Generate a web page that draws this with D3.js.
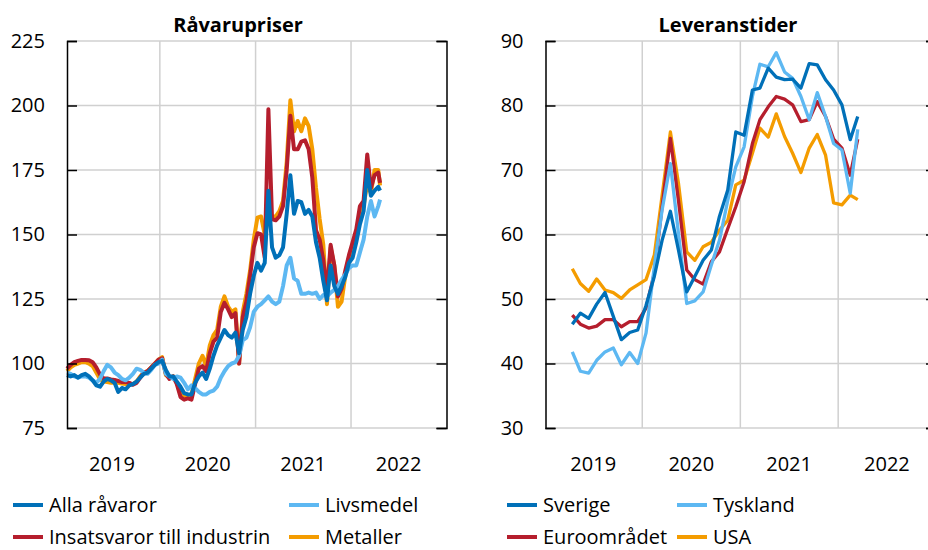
<!DOCTYPE html>
<html>
<head>
<meta charset="utf-8">
<script src="https://cdnjs.cloudflare.com/ajax/libs/d3/7.8.5/d3.min.js"></script>
<style>
  body { margin: 0; background: #fff; }
  svg { display: block; font-family: "Open Sans", Lato, sans-serif; }
  .title { font-size: 20px; font-weight: bold; text-anchor: middle; }
  .axis text { font-size: 20px; fill: #000; }
  .axis path, .axis line { stroke: #000; stroke-width: 1.5px; }
  .grid { stroke: #d0d0d0; stroke-width: 1.5px; }
  .year { font-size: 20px; text-anchor: middle; }
  .legend text { font-size: 20px; }
</style>
</head>
<body>
<div id="chart"></div>
<script>
// commodity prices, every second week
var priceDates = [
  "2019-01-11","2019-01-25","2019-02-08","2019-02-22","2019-03-08","2019-03-22","2019-04-05","2019-04-19",
  "2019-05-03","2019-05-17","2019-05-31","2019-06-14","2019-06-28","2019-07-12","2019-07-26","2019-08-09",
  "2019-08-23","2019-09-06","2019-09-20","2019-10-04","2019-10-18","2019-11-01","2019-11-15","2019-11-29",
  "2019-12-13","2019-12-27","2020-01-10","2020-01-24","2020-02-07","2020-02-21","2020-03-06","2020-03-20",
  "2020-04-03","2020-04-17","2020-05-01","2020-05-15","2020-05-29","2020-06-12","2020-06-26","2020-07-10",
  "2020-07-24","2020-08-07","2020-08-21","2020-09-04","2020-09-18","2020-10-02","2020-10-16","2020-10-30",
  "2020-11-13","2020-11-27","2020-12-11","2020-12-25","2021-01-08","2021-01-22","2021-02-05","2021-02-19",
  "2021-03-05","2021-03-19","2021-04-02","2021-04-16","2021-04-30","2021-05-14","2021-05-28","2021-06-11",
  "2021-06-25","2021-07-09","2021-07-23","2021-08-06","2021-08-20","2021-09-03","2021-09-17","2021-10-01",
  "2021-10-15","2021-10-29","2021-11-12","2021-11-26","2021-12-10","2021-12-24","2022-01-07","2022-01-21",
  "2022-02-04","2022-02-18","2022-03-04","2022-03-18","2022-04-01","2022-04-15","2022-04-22"
];
var allaRavaror = [
  95.5, 95, 95.5, 94.5, 95.5, 96, 95, 93.5, 91.5, 91,
  93, 94, 93.5, 92.5, 89, 90.5, 90, 91.5, 92, 93,
  94.5, 96, 96.5, 98, 99.5, 100.5, 101, 97.5, 95, 95,
  93, 91, 88.5, 88, 88, 92.5, 95, 96.5, 94, 98,
  103, 107, 110, 113, 111, 110, 112, 104, 113, 118,
  127, 134, 139, 136, 139, 167, 145, 141, 142, 145,
  158, 173, 158, 163, 162.5, 158, 159.5, 157, 147, 141,
  132, 124.5, 138, 130, 127, 130, 133.5, 139, 141, 147,
  154, 159, 175, 165, 167, 168.5, 167
];
var livsmedel = [
  96.5, 96, 95, 94.5, 95, 95, 94.5, 93.5, 92.5, 94,
  97, 99.5, 98.5, 96.5, 95.5, 94, 93.5, 94.5, 96, 98,
  97.5, 96.5, 96, 97.5, 99.5, 100, 101.5, 96, 95, 94,
  95, 94.5, 92.5, 90, 91.5, 90.5, 89, 88, 88, 89,
  89.5, 91, 94.5, 97, 99, 100, 100.5, 103, 109, 110,
  114, 120, 122, 123, 124.5, 126, 124, 123, 124, 130,
  138, 141, 133, 132, 127, 127, 127.5, 127, 127.5, 125,
  126.5, 126, 127.5, 128.5, 130, 132.5, 134.5, 137, 138, 138,
  143, 148, 157, 163, 157, 161, 163.5
];
var insatsvaror = [
  98, 99.5, 100.5, 101, 101.4, 101.4, 101.3, 100.5, 98.5, 95.8,
  94.2, 94.2, 93.8, 93.6, 93.2, 92.8, 92.8, 92.5, 91.8, 92.5,
  94.5, 96.5, 97, 98.5, 100, 101.5, 102, 96, 94, 95,
  92, 87, 86, 86.5, 86, 92, 98, 99, 97, 104,
  108.5, 110, 120, 123.5, 121, 118, 119.5, 100, 118, 124,
  134, 145, 150.5, 150, 141, 198.5, 156, 155.5, 157, 161,
  175, 196, 183, 183, 186, 186.5, 183, 172, 151.7, 148,
  140, 128, 146, 138, 126, 129, 136, 142, 147, 152,
  161, 163, 181, 168, 173, 174, 170
];
var metaller = [
  97, 98.5, 99.5, 100, 100.5, 100.5, 100, 99, 96.5, 94,
  93, 92.8, 92.5, 92.5, 92.5, 92.2, 92, 92, 92, 93,
  95, 96.5, 97, 98.5, 100, 101.5, 102.5, 95.5, 94.5, 95,
  92.5, 88, 87, 87.5, 88, 94, 100, 103, 99, 107,
  111, 113, 122, 126, 122, 120, 121, 100, 120, 127,
  136, 148, 156.5, 157, 150, 156, 157, 157, 159, 163,
  178, 202, 190, 194, 190, 195, 192, 183, 168, 156,
  146, 123, 145, 138, 122, 124, 134, 141, 146, 150,
  158, 161, 170, 166, 175, 175, 169
];

// delivery times, monthly
var leadDates = [
  "2019-04-15","2019-05-15","2019-06-15","2019-07-15","2019-08-15","2019-09-15","2019-10-15","2019-11-15","2019-12-15",
  "2020-01-15","2020-02-15","2020-03-15","2020-04-15","2020-05-15","2020-06-15","2020-07-15","2020-08-15","2020-09-15",
  "2020-10-15","2020-11-15","2020-12-15","2021-01-15","2021-02-15","2021-03-15","2021-04-15","2021-05-15","2021-06-15",
  "2021-07-15","2021-08-15","2021-09-15","2021-10-15","2021-11-15","2021-12-15","2022-01-15","2022-02-15","2022-03-15"
];
var sverige = [46.1, 47.8, 47.0, 49.2, 51.0, 47.3, 43.7, 44.8, 45.2, 49.0, 53.5, 59.1, 63.6, 57.6, 51.1, 53.5, 56.0, 57.6,
  62.8, 66.9, 75.9, 75.4, 82.4, 82.7, 85.8, 84.4, 84.0, 84.1, 82.7, 86.5, 86.3, 84.0, 82.4, 80.1, 74.7, 78.3];
var tyskland = [41.8, 38.8, 38.5, 40.5, 41.8, 42.4, 39.8, 41.7, 40.0, 44.7, 55.0, 63.8, 71.0, 60.2, 49.3, 49.7, 51.1, 55.3,
  59.1, 65.3, 70.5, 73.6, 81.4, 86.4, 86.0, 88.2, 85.2, 84.2, 81.4, 77.8, 82.0, 78.3, 74.1, 73.1, 66.4, 76.3];
var euroomradet = [47.5, 46.1, 45.5, 45.8, 46.8, 46.8, 45.7, 46.5, 46.5, 48.6, 54.0, 64.3, 74.9, 65.3, 54.5, 53.0, 52.3, 55.8,
  57.3, 60.9, 64.3, 68.2, 74.1, 77.8, 79.8, 81.4, 81.0, 80.1, 77.5, 77.8, 80.6, 78.3, 74.8, 73.4, 69.2, 74.8];
var usa = [54.7, 52.4, 51.2, 53.1, 51.4, 51.0, 50.1, 51.4, 52.2, 53.0, 56.8, 66.0, 75.9, 68.0, 57.3, 56.0, 58.1, 58.8,
  60.7, 62.2, 67.7, 68.4, 72.6, 76.5, 75.1, 78.7, 75.2, 72.6, 69.6, 73.4, 75.5, 72.3, 64.9, 64.6, 66.1, 65.4];

var priceTicks = [75, 100, 125, 150, 175, 200, 225];
var leadTicks = [30, 40, 50, 60, 70, 80, 90];
var years = [2019, 2020, 2021, 2022];

var colors = {darkblue: "#0070b8", lightblue: "#5db8f2", red: "#b51e2d", orange: "#f49c00"};
var parseDate = d3.timeParse("%Y-%m-%d");

var svg = d3.select("#chart").append("svg")
    .attr("width", 928)
    .attr("height", 550);

function toPoints(dates, values) {
  return dates.map(function(d, i) { return {date: parseDate(d), value: values[i]}; });
}

function drawPanel(p) {
  var x = d3.scaleTime().domain(p.xDomain).range([p.left, p.right]);
  var y = d3.scaleLinear().domain(d3.extent(p.ticks)).range([p.bottom, p.top]);
  var g = svg.append("g");

  // horizontal grid
  g.selectAll(".hgrid")
      .data(p.ticks)
    .enter().append("line")
      .attr("class", "grid")
      .attr("x1", p.left).attr("x2", p.right)
      .attr("y1", function(d) { return y(d); })
      .attr("y2", function(d) { return y(d); });

  // vertical grid at the start of each year
  g.selectAll(".vgrid")
      .data(years.slice(1))
    .enter().append("line")
      .attr("class", "grid")
      .attr("x1", function(d) { return x(new Date(d, 0, 1)); })
      .attr("x2", function(d) { return x(new Date(d, 0, 1)); })
      .attr("y1", p.top).attr("y2", p.bottom);

  // the lines, last legend entry drawn first so the first one ends on top
  var line = d3.line()
      .x(function(d) { return x(d.date); })
      .y(function(d) { return y(d.value); });

  p.series.slice().reverse().forEach(function(s) {
    g.append("path")
        .datum(toPoints(p.dates, s.values))
        .style("fill", "none")
        .style("stroke", s.color)
        .style("stroke-width", p.lineWidth + "px")
        .style("stroke-linejoin", "round")
        .attr("d", line);
  });

  // left and right axes, ticks pointing inwards
  g.append("g")
      .attr("class", "axis")
      .attr("transform", "translate(" + p.left + ",0)")
      .call(d3.axisLeft(y).tickValues(p.ticks).tickSize(-10).tickPadding(22))
      .attr("font-size", null).attr("font-family", null);

  g.append("g")
      .attr("class", "axis")
      .attr("transform", "translate(" + p.right + ",0)")
      .call(d3.axisRight(y).tickValues(p.ticks).tickSize(-10).tickFormat(""));

  // year labels in the middle of each year
  g.selectAll(".year")
      .data(years)
    .enter().append("text")
      .attr("class", "year")
      .attr("x", function(d) { return x(new Date(d, 6, 2)); })
      .attr("y", 471)
      .text(function(d) { return d; });

  // title
  g.append("text")
      .attr("class", "title")
      .attr("x", p.titleX)
      .attr("y", 32)
      .text(p.title);

  // legend, two columns and two rows
  var lg = g.selectAll(".legend")
      .data(p.series)
    .enter().append("g")
      .attr("class", "legend")
      .attr("transform", function(d, i) {
        return "translate(" + p.legendX[i % 2] + "," + (505 + 32 * Math.floor(i / 2)) + ")";
      });
  lg.append("line")
      .attr("x1", 0).attr("x2", 30)
      .style("stroke", function(d) { return d.color; })
      .style("stroke-width", "4px");
  lg.append("text")
      .attr("x", 36)
      .attr("dy", "0.35em")
      .text(function(d) { return d.name; });
}

// Råvarupriser
drawPanel({
  title: "Råvarupriser", titleX: 238,
  left: 67, right: 446.5, top: 41, bottom: 428,
  xDomain: [new Date(2019, 0, 11), new Date(2023, 0, 1)],
  ticks: priceTicks, dates: priceDates, lineWidth: 4,
  legendX: [13, 289],
  series: [
    {name: "Alla råvaror", color: colors.darkblue, values: allaRavaror},
    {name: "Livsmedel", color: colors.lightblue, values: livsmedel},
    {name: "Insatsvaror till industrin", color: colors.red, values: insatsvaror},
    {name: "Metaller", color: colors.orange, values: metaller}
  ]
});

// Leveranstider
drawPanel({
  title: "Leveranstider", titleX: 728,
  left: 545.5, right: 936, top: 41, bottom: 428,
  xDomain: [new Date(2019, 0, 5), new Date(2023, 0, 1)],
  ticks: leadTicks, dates: leadDates, lineWidth: 3.3,
  legendX: [507, 677],
  series: [
    {name: "Sverige", color: colors.darkblue, values: sverige},
    {name: "Tyskland", color: colors.lightblue, values: tyskland},
    {name: "Euroområdet", color: colors.red, values: euroomradet},
    {name: "USA", color: colors.orange, values: usa}
  ]
});
</script>
</body>
</html>
